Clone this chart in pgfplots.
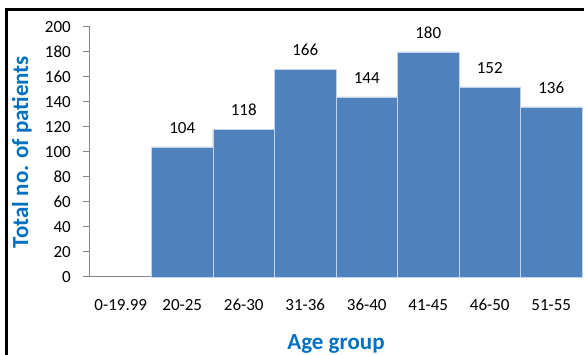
\documentclass[border=0pt]{standalone}
\usepackage{fontspec}
\setmainfont{Carlito}
\usepackage{pgfplots}
\pgfplotsset{compat=1.18}

\definecolor{barblue}{RGB}{79,129,189}
\definecolor{baredge}{RGB}{196,212,234}
\definecolor{titleblue}{RGB}{0,112,192}
\definecolor{axisgray}{RGB}{134,134,134}

\begin{document}
\begin{tikzpicture}[x=1pt,y=1pt]
\useasboundingbox (0pt,0pt) rectangle (584pt,355pt);
% outer frame
\draw[line width=3pt] (6pt,0pt) -- (6pt,345pt) -- (584pt,345pt);
\begin{axis}[
  at={(90pt,78pt)}, anchor=south west,
  scale only axis, width=492pt, height=250pt,
  ybar, bar width=1, bar shift=0pt,
  xmin=-0.5, xmax=7.5, ymin=0, ymax=200,
  xtick={0,...,7},
  xticklabels={0-19.99,20-25,26-30,31-36,36-40,41-45,46-50,51-55},
  ytick={0,20,...,200},
  axis x line*=bottom, axis y line*=left,
  axis line style={draw=axisgray, line width=1pt},
  major x tick style={draw=none},
  major y tick style={draw=axisgray, line width=1pt},
  tick align=outside, major tick length=7pt,
  /pgf/number format/assume math mode=true,
  tick label style={font=\fontsize{17}{17}\selectfont},
  xticklabel style={anchor=base, yshift=-27pt},
  yticklabel style={anchor=east, inner sep=0pt, xshift=-12pt},
  xlabel={Age group},
  ylabel={Total no. of patients},
  xlabel style={at={([yshift=-73pt]axis description cs:0.5,0)}, anchor=base,
    font=\fontsize{23}{23}\selectfont\bfseries, text=titleblue},
  ylabel style={at={([xshift=-62pt]axis description cs:0,0.5)}, anchor=base,
    font=\fontsize{23}{23}\selectfont\bfseries, text=titleblue},
  nodes near coords,
  every node near coord/.append style={font=\fontsize{17}{17}\selectfont,
    inner sep=0pt, anchor=south, yshift=13pt, text=black},
  clip=false,
]
\addplot[fill=barblue, draw=baredge, line width=0.8pt] coordinates {
  (1,104) (2,118) (3,166) (4,144) (5,180) (6,152) (7,136)
};
\end{axis}
\end{tikzpicture}
\end{document}
